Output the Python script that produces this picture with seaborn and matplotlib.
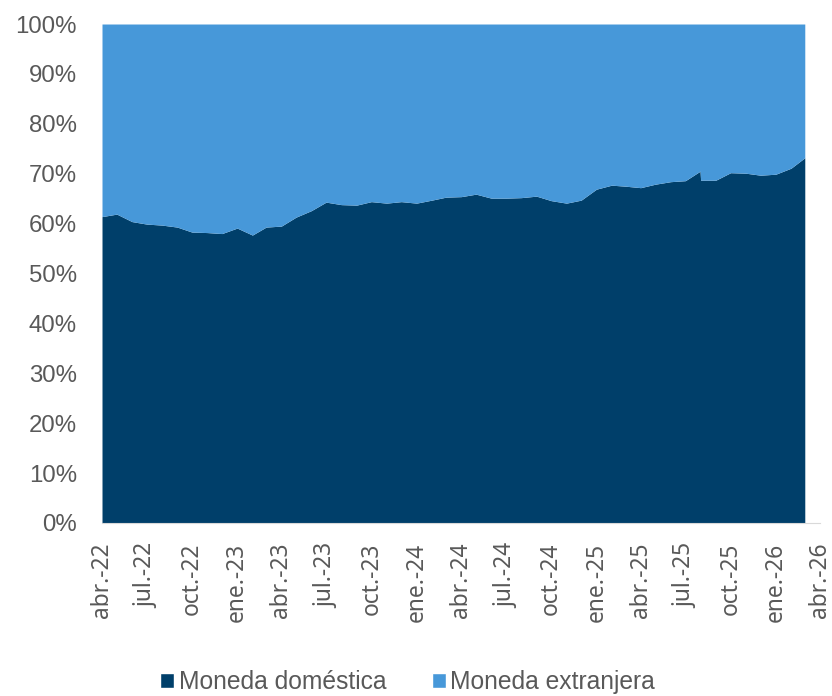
import pandas as pd
import seaborn as sns
import matplotlib.pyplot as plt
from matplotlib.patches import Patch
from matplotlib.ticker import PercentFormatter

# --- datos (% del total) ---
meses = pd.date_range('2022-04-01', '2026-03-01', freq='MS')
domestica = [61.4, 61.9, 60.4, 59.9, 59.7, 59.3, 58.3, 58.2, 58.0, 59.1, 57.7, 59.3,
             59.5, 61.3, 62.6, 64.3, 63.8, 63.7, 64.4, 64.1, 64.4, 64.1, 64.7, 65.3,
             65.4, 65.9, 65.1, 65.1, 65.2, 65.5, 64.6, 64.1, 64.7, 66.9, 67.7, 67.5,
             67.2, 67.9, 68.4, 68.6, 68.7, 68.7, 70.2, 70.1, 69.7, 69.9, 71.1, 73.2]
# dato puntual al cierre de julio 2025 (pico)
fecha_extra = pd.Timestamp('2025-07-31')
valor_extra = 70.5

series = ['Moneda doméstica', 'Moneda extranjera']
colores = ['#003F6A', '#4798D9']

fechas_ticks = pd.date_range('2022-04-01', '2026-04-01', freq='QS-APR')
etiquetas_ticks = ['abr.-22', 'jul.-22', 'oct.-22', 'ene.-23', 'abr.-23', 'jul.-23',
                   'oct.-23', 'ene.-24', 'abr.-24', 'jul.-24', 'oct.-24', 'ene.-25',
                   'abr.-25', 'jul.-25', 'oct.-25', 'ene.-26', 'abr.-26']

df = pd.DataFrame({'fecha': meses, 'domestica': domestica})
df = pd.concat([df, pd.DataFrame({'fecha': [fecha_extra], 'domestica': [valor_extra]})])
df = df.sort_values('fecha').reset_index(drop=True)
df['extranjera'] = 100 - df['domestica']

sns.set_style('white')
plt.rcParams['font.family'] = ['Liberation Sans', 'DejaVu Sans']

fig = plt.figure(figsize=(8.32, 6.96), dpi=100)
ax = fig.add_axes([0.1226, 0.2486, 0.8630, 0.7169])

# area apilada al 100%
ax.stackplot(df['fecha'], df['domestica'], df['extranjera'], colors=colores,
             labels=series, linewidth=0)

ax.set_xlim(pd.Timestamp('2022-04-01'), pd.Timestamp('2026-04-01'))
ax.set_ylim(0, 100)
ax.set_yticks(range(0, 101, 10))
ax.yaxis.set_major_formatter(PercentFormatter(decimals=0))
ax.tick_params(axis='y', length=0, pad=18, labelsize=17.3, labelcolor='#595959')

ax.set_xticks(fechas_ticks)
ax.set_xticklabels(etiquetas_ticks)
ax.tick_params(axis='x', length=0, pad=14, labelsize=16.4, labelrotation=90,
               labelcolor='#595959')
for lbl in ax.get_xticklabels():
    lbl.set_fontfamily(['Noto Sans', 'DejaVu Sans'])

for s in ['top', 'right', 'left']:
    ax.spines[s].set_visible(False)
ax.spines['bottom'].set_color('#D9D9D9')

handles = [Patch(facecolor=c, label=l) for c, l in zip(colores, series)]
fig.legend(handles=handles, loc='center', bbox_to_anchor=(0.490, 0.02), ncol=2,
           frameon=False, fontsize=17.7, labelcolor='#595959', handlelength=0.57,
           handleheight=0.57, handletextpad=0.2, columnspacing=1.83)

fig.savefig('out.png', dpi=100)
